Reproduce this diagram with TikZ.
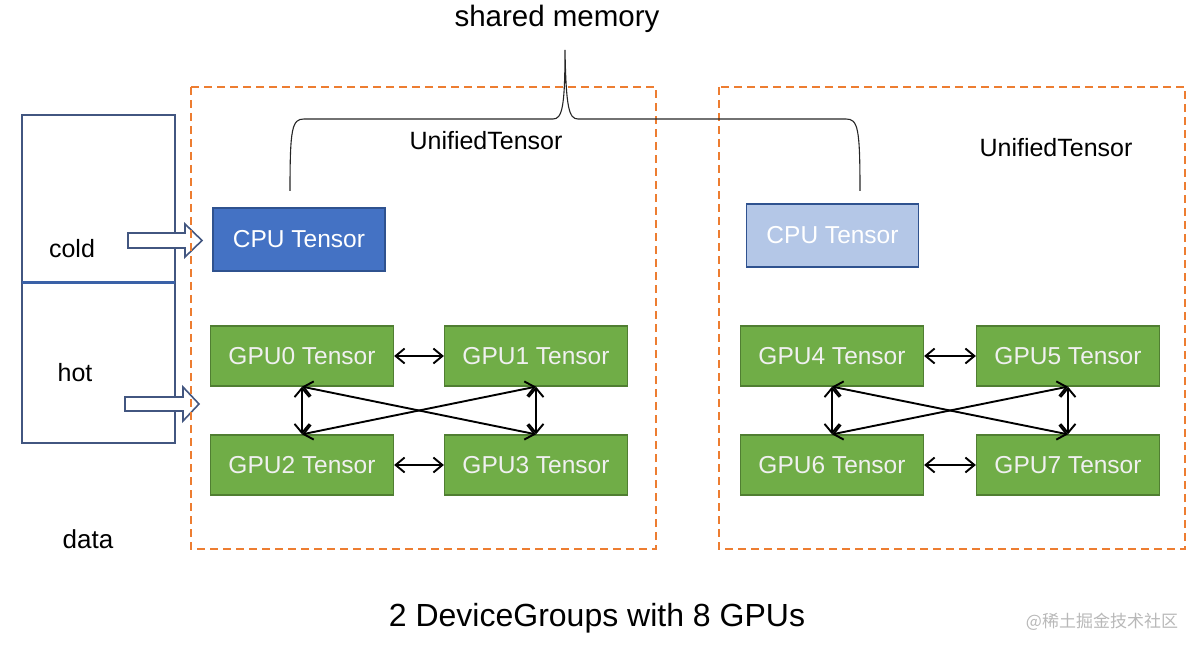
\documentclass[tikz,border=0pt]{standalone}
\usepackage{fontspec}
\setmainfont{Liberation Sans}
\newfontfamily\cjkfont{Noto Sans CJK SC}
\usetikzlibrary{arrows.meta}

\definecolor{grouporange}{RGB}{237,125,49}
\definecolor{gpugreen}{RGB}{112,173,71}
\definecolor{gpuedge}{RGB}{80,126,50}
\definecolor{cpublue}{RGB}{68,114,196}
\definecolor{cpulight}{RGB}{180,199,231}
\definecolor{cpuedge}{RGB}{47,82,143}
\definecolor{dataedge}{RGB}{66,86,128}

\begin{document}
\begin{tikzpicture}[x=1pt, y=-1pt, >={Straight Barb[length=9pt, width=15pt]},
  gputensor/.style={draw=gpuedge, fill=gpugreen, line width=1.3pt, inner sep=0pt,
    minimum width=183pt, minimum height=60pt, text=white!94!black,
    font=\fontsize{24.5}{29}\selectfont},
  cputensor/.style={draw=cpuedge, line width=1.5pt, inner sep=0pt,
    minimum width=172pt, minimum height=63pt, text=white,
    font=\fontsize{24.5}{29}\selectfont},
  link/.style={<->, line width=1.9pt},
  groupbox/.style={draw=grouporange, line width=1.3pt, dash pattern=on 8pt off 5pt},
  blockarrow/.style={draw=dataedge, fill=white, line width=1.6pt, line join=miter},
  label/.style={font=\fontsize{25}{30}\selectfont}]

  \useasboundingbox (0,0) rectangle (1203,652);

  % --- data: cold / hot ---
  \draw[dataedge, line width=1.5pt] (22,115) rectangle (175,443);
  \draw[cpublue!85!black, line width=3pt] (22,283) -- (175,283);
  \node[label] (cold) at (72,249) {cold};
  \node[label] (hot) at (75,373) {hot};
  \node[label, font=\fontsize{26}{30}\selectfont] (data) at (88,539) {data};
  \draw[blockarrow] (128,233) -- (185,233) -- (185,224) -- (202,240.5)
    -- (185,257) -- (185,248) -- (128,248) -- cycle;
  \draw[blockarrow] (125,397) -- (183,397) -- (183,387) -- (199,404)
    -- (183,421) -- (183,411) -- (125,411) -- cycle;

  % --- two device groups ---
  \draw[groupbox] (191,87) rectangle (656,549);
  \draw[groupbox] (719,87) rectangle (1185,549);

  % shared memory brace over both CPU tensors
  \node[font=\fontsize{29.5}{34}\selectfont] (shm) at (557,19) {shared memory};
  \draw[line width=1.1pt, black!85] (290,191) .. controls (290,128) and (292,119) .. (304,119)
    -- (553,119) .. controls (562,119) and (565,108) .. (565,50)
    .. controls (566,108) and (569,119) .. (578,119)
    -- (846,119) .. controls (858,119) and (860,128) .. (860,191);
  \node[label] (ut0) at (486,141) {UnifiedTensor};
  \node[label] (ut1) at (1056,148) {UnifiedTensor};

  % --- group 0 ---
  \node[cputensor, fill=cpublue] (cpu0) at (299,239.5) {CPU Tensor};
  \node[gputensor] (gpu0) at (302,356) {GPU0 Tensor};
  \node[gputensor] (gpu1) at (536,356) {GPU1 Tensor};
  \node[gputensor] (gpu2) at (302,465) {GPU2 Tensor};
  \node[gputensor] (gpu3) at (536,465) {GPU3 Tensor};
  \draw[link] (gpu0) -- (gpu1);
  \draw[link] (gpu2) -- (gpu3);
  \draw[link] (gpu0) -- (gpu2);
  \draw[link] (gpu1) -- (gpu3);
  \draw[link] (gpu0.south) -- (gpu3.north);
  \draw[link] (gpu2.north) -- (gpu1.south);

  % --- group 1 ---
  \node[cputensor, fill=cpulight] (cpu1) at (832.5,235.5) {CPU Tensor};
  \node[gputensor] (gpu4) at (832,356) {GPU4 Tensor};
  \node[gputensor] (gpu5) at (1068,356) {GPU5 Tensor};
  \node[gputensor] (gpu6) at (832,465) {GPU6 Tensor};
  \node[gputensor] (gpu7) at (1068,465) {GPU7 Tensor};
  \draw[link] (gpu4) -- (gpu5);
  \draw[link] (gpu6) -- (gpu7);
  \draw[link] (gpu4) -- (gpu6);
  \draw[link] (gpu5) -- (gpu7);
  \draw[link] (gpu4.south) -- (gpu7.north);
  \draw[link] (gpu6.north) -- (gpu5.south);

  % --- caption ---
  \node[font=\fontsize{32}{38}\selectfont] (title) at (597,618) {2 DeviceGroups with 8 GPUs};
  \node[font=\cjkfont\fontsize{17}{20}\selectfont, text=black!28] (mark) at (1102,622) {@稀土掘金技术社区};

\end{tikzpicture}
\end{document}
